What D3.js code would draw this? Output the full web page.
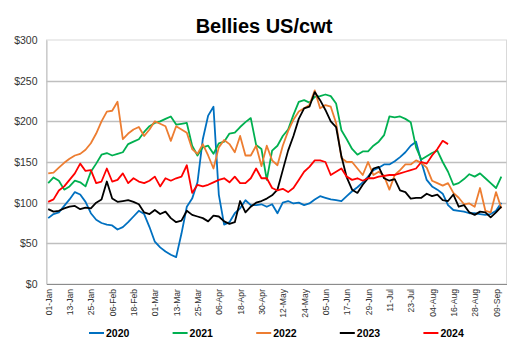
<html>
<head>
<meta charset="utf-8">
<title>Bellies US/cwt</title>
<script src="https://d3js.org/d3.v7.min.js"></script>
<style>
  body { margin: 0; background: #fff; }
  text { font-family: "Liberation Sans", Arial, sans-serif; }
</style>
</head>
<body>
<svg width="511" height="351"></svg>
<script>
// day of year (0 = 01-Jan), one reading every 3 days
var days = d3.range(0, 256, 3);

var tickDays = d3.range(0, 253, 12);
var tickLabels = ["01-Jan","13-Jan","25-Jan","06-Feb","18-Feb","01-Mar","13-Mar","25-Mar","06-Apr","18-Apr","30-Apr",
                  "12-May","24-May","05-Jun","17-Jun","29-Jun","11-Jul","23-Jul","04-Aug","16-Aug","28-Aug","09-Sep"];
var yTicks = [0, 50, 100, 150, 200, 250, 300];

var years = ["2020", "2021", "2022", "2023", "2024"];
var colors = ["#0070C0", "#00B050", "#ED7D31", "#000000", "#FF0000"];

var v2020 = [81,86,88,96,104,113,110,101,87,79,75,73,72,67,70,76,83,90,86,70,52,45,40,36,33,62,95,105,125,178,207,218,110,73,76,
  87,93,103,97,97,98,95,98,87,100,102,99,100,97,99,104,108,106,104,103,102,108,114,119,125,132,140,143,147,147,151,156,162,170,175,
  150,128,120,116,111,97,91,90,89,87,87,86,85,86,90,100];
var v2021 = [124,131,127,116,120,127,125,120,138,148,159,161,158,160,162,172,175,178,187,194,198,200,203,206,196,197,198,170,158,168,
  170,160,173,175,185,186,193,199,204,171,166,128,164,170,182,190,208,224,226,223,230,231,233,231,222,189,178,166,159,163,163,170,175,
  183,206,205,206,203,199,168,153,157,161,164,150,138,122,124,129,135,132,136,130,124,118,132];
var v2022 = [136,137,143,149,154,158,160,165,173,185,200,212,213,224,178,185,190,193,182,190,200,197,194,176,194,190,186,166,160,172,
  158,142,168,177,172,162,182,158,158,170,145,170,152,146,170,188,202,212,216,220,238,216,220,218,198,155,150,150,142,134,150,134,138,
  133,116,134,140,147,147,152,149,143,127,124,121,124,112,106,98,99,95,118,90,88,113,93];
var v2023 = [92,89,90,93,95,96,92,94,93,100,104,126,105,101,102,103,101,98,88,86,91,86,89,81,76,78,90,85,83,81,77,84,83,77,74,
  76,102,88,95,100,102,105,109,116,140,164,182,203,216,218,236,226,214,200,193,157,131,116,112,122,130,142,144,130,127,129,115,113,105,106,
  106,111,108,110,103,102,110,95,97,88,85,89,88,82,88,95];
var v2024 = [101,104,115,120,128,136,148,139,140,124,126,142,126,128,136,124,130,126,124,127,132,120,130,127,130,132,146,112,122,120,
  122,125,128,130,125,132,124,124,130,142,130,130,118,115,117,113,118,128,138,144,152,152,150,134,138,142,132,128,130,127,130,130,132,
  133,134,134,136,138,140,142,150,148,158,166,176,172];

var series = [v2020, v2021, v2022, v2023, v2024];

var svg = d3.select("svg");
var plot = {left: 46.5, right: 506.5, top: 40, bottom: 284};

var x = d3.scaleLinear().domain([-0.96, 257.9]).range([plot.left, plot.right]);
var y = d3.scaleLinear().domain([0, 300]).range([plot.bottom, plot.top]);

// title
svg.append("text")
  .attr("x", 264).attr("y", 33)
  .attr("text-anchor", "middle")
  .attr("font-size", 20).attr("font-weight", "bold")
  .text("Bellies US/cwt");

// plot border
svg.append("rect")
  .attr("x", plot.left).attr("y", plot.top)
  .attr("width", plot.right - plot.left).attr("height", plot.bottom - plot.top)
  .attr("fill", "none").attr("stroke", "#d9d9d9");

// gridlines
svg.append("g").selectAll("line")
  .data(yTicks.filter(function(d){ return d > 0 && d < 300; }))
  .enter().append("line")
  .attr("x1", plot.left).attr("x2", plot.right)
  .attr("y1", function(d){ return Math.round(y(d)) + 0.5; })
  .attr("y2", function(d){ return Math.round(y(d)) + 0.5; })
  .attr("stroke", "#bfbfbf").attr("stroke-width", 1.3);

// y axis labels
var yAxis = d3.axisLeft(y).tickValues(yTicks).tickSize(0).tickPadding(9)
  .tickFormat(function(d){ return "$" + d; });
svg.append("g")
  .attr("transform", "translate(" + plot.left + ",0)")
  .call(yAxis)
  .call(function(g){ g.select(".domain").attr("stroke", "#bfbfbf"); })
  .selectAll("text")
  .attr("font-family", "Liberation Sans, Arial, sans-serif")
  .attr("font-size", 10.5).attr("fill", "#333");

// x axis
var xAxis = d3.axisBottom(x).tickValues(tickDays).tickSize(0)
  .tickFormat(function(d, i){ return tickLabels[i]; });
var gx = svg.append("g")
  .attr("transform", "translate(0," + plot.bottom + ")")
  .call(xAxis);
gx.select(".domain").attr("stroke", "#8c8c8c").attr("stroke-width", 1.2);
gx.selectAll("text")
  .attr("font-family", "Liberation Sans, Arial, sans-serif")
  .attr("font-size", 8.6).attr("fill", "#333")
  .attr("text-anchor", "end")
  .attr("transform", "translate(0,5) rotate(-90)")
  .attr("x", 0).attr("y", 0).attr("dy", "0.35em");

// lines
var line = d3.line()
  .x(function(d, i){ return x(days[i]); })
  .y(function(d){ return y(d); });

svg.append("g").selectAll("path")
  .data(series)
  .enter().append("path")
  .attr("d", line)
  .attr("fill", "none")
  .attr("stroke", function(d, i){ return colors[i]; })
  .attr("stroke-width", 1.8)
  .attr("stroke-linejoin", "round");

// legend
var legend = svg.append("g").selectAll("g")
  .data(years)
  .enter().append("g")
  .attr("transform", function(d, i){ return "translate(" + (89 + i * 83.6) + ",333)"; });
legend.append("line")
  .attr("x1", 0).attr("x2", 15).attr("y1", 0).attr("y2", 0)
  .attr("stroke", function(d, i){ return colors[i]; })
  .attr("stroke-width", 2);
legend.append("text")
  .attr("x", 17).attr("y", 4)
  .attr("font-size", 10.5).attr("font-weight", "bold")
  .text(function(d){ return d; });
</script>
</body>
</html>
